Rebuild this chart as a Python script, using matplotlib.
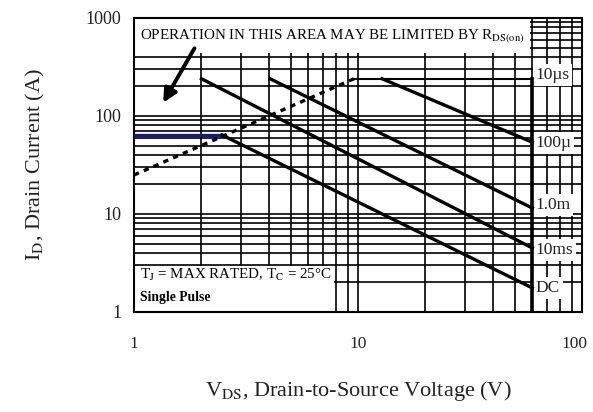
import numpy as np
import matplotlib
matplotlib.use("Agg")
import matplotlib.pyplot as plt
import matplotlib.transforms as mtransforms
from matplotlib.patches import Rectangle

plt.rcParams['font.family'] = ['Liberation Serif', 'DejaVu Serif']
plt.rcParams['mathtext.fontset'] = 'stix'

# safe operating area curves (V_DS in V, I_D in A)
rds_v = [1.0, 9.6]
rds_i = [25, 240]
cap_v = [9.6, 60]          # 10us, current limited
cap_i = [240, 240]
t100us_v = [12.8, 60]
t100us_i = [240, 54]
t1ms_v = [4.05, 60]
t1ms_i = [240, 11.5]
t10ms_v = [2.0, 60]
t10ms_i = [240, 4.5]
dc_flat_v = [1.0, 2.47]
dc_flat_i = [64, 64]
dc_v = [2.47, 60]
dc_i = [64, 1.76]
bv_v = [60, 60]
bv_i = [1, 240]

curve_labels = ['10\u00b5s', '100\u00b5', '1.0m', '10ms', 'DC']
label_i = [262, 53, 12.3, 4.3, 1.76]

x_ticks = [1, 10, 100]
x_ticklabels = ['1', '10', '100']
y_ticks = [1, 10, 100, 1000]
y_ticklabels = ['1', '10', '100', '1000']

fig = plt.figure(figsize=(5.93, 4.12), dpi=100)
ax = fig.add_axes([134 / 593, 1 - 312 / 412, 448 / 593, 294 / 412])
ax.set_xscale('log')
ax.set_yscale('log')
ax.set_xlim(1, 100)
ax.set_ylim(1, 1000)

ax.set_axisbelow(True)
ax.grid(True, which='both', color='black', lw=1.2)
ax.tick_params(which='both', direction='in', top=True, right=True, length=0)
ax.set_xticks(x_ticks)
ax.set_xticklabels(x_ticklabels, fontsize=12.5, color='#222222')
ax.set_yticks(y_ticks)
ax.set_yticklabels(y_ticklabels, fontsize=13, color='#222222')
ax.tick_params(axis='x', which='major', pad=17)
ax.tick_params(axis='y', which='major', pad=9)
ax.xaxis.set_minor_formatter(plt.NullFormatter())
ax.yaxis.set_minor_formatter(plt.NullFormatter())
# keep the "100" at the right edge inside the picture
last = ax.get_xticklabels()[-1]
last.set_transform(last.get_transform() +
                   mtransforms.ScaledTranslation(-8 / 100, 0, fig.dpi_scale_trans))
for s in ax.spines.values():
    s.set_linewidth(1.5)

# white areas covering the grid behind the notes
ax.add_patch(Rectangle((0, 0.881), 0.884, 0.119, transform=ax.transAxes,
                       facecolor='white', edgecolor='none', zorder=1))
ax.add_patch(Rectangle((0, 0), 0.446, 0.156, transform=ax.transAxes,
                       facecolor='white', edgecolor='none', zorder=1))

ax.plot(rds_v, rds_i, color='black', lw=2.4, ls=(0, (1.6, 1.6)), zorder=3)
ax.plot(cap_v, cap_i, color='black', lw=1.5, zorder=3)
ax.plot(t100us_v, t100us_i, color='black', lw=2.4, zorder=3)
ax.plot(t1ms_v, t1ms_i, color='black', lw=2.4, zorder=3)
ax.plot(t10ms_v, t10ms_i, color='black', lw=2.4, zorder=3)
ax.plot(dc_flat_v, dc_flat_i, color='#1a1a70', lw=2.4, zorder=3)
ax.plot(dc_v, dc_i, color='black', lw=2.4, zorder=3)
ax.plot(bv_v, bv_i, color='black', lw=2.6, zorder=3)

for lab, yi in zip(curve_labels, label_i):
    ax.text(62, yi, lab, fontsize=12.5, ha='left', va='center', zorder=2,
            color='#222222', bbox=dict(facecolor='white', edgecolor='none', pad=2))

ax.text(0.013, 0.94, 'OPERATION IN THIS AREA MAY BE LIMITED BY R$_{\\mathrm{DS(on)}}$',
        transform=ax.transAxes, fontsize=10.8, ha='left', va='center', zorder=2)
ax.annotate('', xy=(0.062, 0.704), xytext=(0.138, 0.905), xycoords='axes fraction',
            arrowprops=dict(arrowstyle='-|>,head_length=0.8,head_width=0.4',
                            color='black', lw=2.8), zorder=3)
ax.text(0.013, 0.125, 'T$_\\mathrm{J}$ = MAX RATED, T$_\\mathrm{C}$ = 25\u00b0C',
        transform=ax.transAxes, fontsize=10.8, ha='left', va='center', zorder=2)
ax.text(0.013, 0.05, 'Single Pulse', transform=ax.transAxes, fontsize=9.8,
        fontweight='bold', ha='left', va='center', zorder=2)

ax.set_xlabel('V$_\\mathrm{DS}$, Drain-to-Source Voltage (V)', fontsize=16, labelpad=20,
              color='#222222')
ax.set_ylabel('I$_\\mathrm{D}$, Drain Current (A)', fontsize=16, labelpad=28,
              color='#222222')

fig.savefig('out.png', dpi=100)
